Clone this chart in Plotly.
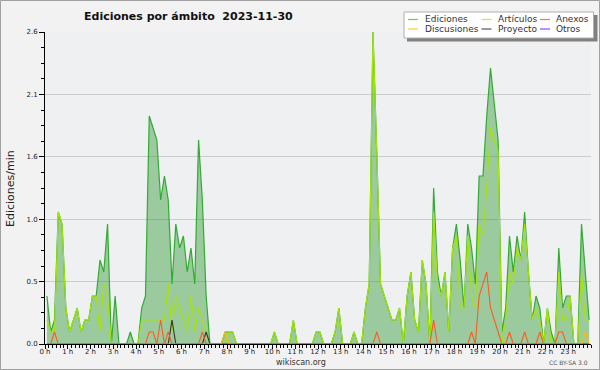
import plotly.graph_objects as go

# ---------------- data (10-minute slots, 144 per day) ----------------
hours = list(range(24))
hour_labels = [f"{h} h" for h in hours]
y_tick_vals = [0, 0.52, 1.04, 1.56, 2.08, 2.6]
y_tick_text = ["0.0", "0.5", "1.0", "1.6", "2.1", "2.6"]
series_names = ["Ediciones", "Artículos", "Anexos", "Discusiones", "Proyecto", "Otros"]

ediciones = [
    0.4, 0.1, 0.2, 1.1, 1.0, 0.3, 0.1, 0.2, 0.3, 0.1, 0.2, 0.2,
    0.4, 0.4, 0.7, 0.6, 1.0, 0.0, 0.4, 0.0, 0.0, 0.0, 0.1, 0.0,
    0.0, 0.3, 0.4, 1.9, 1.8, 1.7, 1.2, 1.4, 1.2, 0.5, 1.0, 0.8,
    0.9, 0.6, 0.8, 0.5, 1.7, 1.2, 0.4, 0.0, 0.0, 0.0, 0.0, 0.1,
    0.1, 0.1, 0.0, 0.0, 0.0, 0.0, 0.0, 0.0, 0.0, 0.0, 0.0, 0.0,
    0.1, 0.0, 0.0, 0.0, 0.0, 0.2, 0.0, 0.0, 0.0, 0.0, 0.0, 0.1,
    0.1, 0.0, 0.0, 0.0, 0.1, 0.3, 0.0, 0.0, 0.0, 0.1, 0.0, 0.0,
    0.3, 0.5, 2.6, 1.6, 0.5, 0.4, 0.3, 0.2, 0.2, 0.3, 0.0, 0.4,
    0.6, 0.2, 0.1, 0.7, 0.5, 0.0, 1.3, 0.6, 0.4, 0.6, 0.1, 0.8,
    1.0, 0.7, 0.3, 1.0, 0.8, 0.5, 1.4, 1.4, 1.9, 2.3, 2.0, 1.7,
    0.1, 0.3, 0.9, 0.6, 0.9, 0.7, 1.1, 0.6, 0.2, 0.4, 0.3, 0.0,
    0.3, 0.1, 0.0, 0.8, 0.3, 0.4, 0.4, 0.0, 0.0, 1.0, 0.6, 0.2,
]
articulos = [
    0.2, 0.1, 0.1, 1.1, 1.0, 0.3, 0.1, 0.2, 0.3, 0.1, 0.2, 0.2,
    0.4, 0.4, 0.1, 0.5, 0.4, 0.0, 0.0, 0.0, 0.0, 0.0, 0.0, 0.0,
    0.0, 0.2, 0.2, 0.2, 0.2, 0.2, 0.2, 0.2, 0.5, 0.1, 0.4, 0.3,
    0.2, 0.1, 0.4, 0.1, 0.3, 0.2, 0.1, 0.0, 0.0, 0.0, 0.0, 0.0,
    0.1, 0.1, 0.0, 0.0, 0.0, 0.0, 0.0, 0.0, 0.0, 0.0, 0.0, 0.0,
    0.1, 0.0, 0.0, 0.0, 0.0, 0.2, 0.0, 0.0, 0.0, 0.0, 0.0, 0.1,
    0.1, 0.0, 0.0, 0.0, 0.1, 0.3, 0.0, 0.0, 0.0, 0.1, 0.0, 0.0,
    0.3, 0.5, 2.6, 1.6, 0.5, 0.4, 0.3, 0.2, 0.2, 0.3, 0.0, 0.4,
    0.6, 0.2, 0.1, 0.7, 0.5, 0.0, 1.1, 0.5, 0.4, 0.6, 0.1, 0.8,
    0.9, 0.3, 0.3, 0.9, 0.4, 0.3, 1.0, 0.9, 1.3, 1.8, 1.7, 1.6,
    0.0, 0.2, 0.6, 0.5, 0.8, 0.7, 1.0, 0.6, 0.2, 0.3, 0.2, 0.0,
    0.3, 0.0, 0.0, 0.6, 0.2, 0.2, 0.4, 0.0, 0.0, 0.6, 0.2, 0.2,
]
anexos = [
    0.0, 0.0, 0.1, 0.0, 0.0, 0.0, 0.0, 0.0, 0.0, 0.0, 0.0, 0.0,
    0.0, 0.0, 0.0, 0.0, 0.0, 0.0, 0.0, 0.0, 0.0, 0.0, 0.0, 0.0,
    0.0, 0.0, 0.0, 0.1, 0.1, 0.0, 0.2, 0.0, 0.1, 0.0, 0.0, 0.0,
    0.0, 0.0, 0.0, 0.0, 0.0, 0.1, 0.0, 0.0, 0.0, 0.0, 0.0, 0.0,
    0.0, 0.0, 0.0, 0.0, 0.0, 0.0, 0.0, 0.0, 0.0, 0.0, 0.0, 0.0,
    0.0, 0.0, 0.0, 0.0, 0.0, 0.0, 0.0, 0.0, 0.0, 0.0, 0.0, 0.0,
    0.0, 0.0, 0.0, 0.0, 0.0, 0.0, 0.0, 0.0, 0.0, 0.0, 0.0, 0.0,
    0.0, 0.0, 0.0, 0.1, 0.0, 0.0, 0.0, 0.0, 0.0, 0.0, 0.0, 0.0,
    0.0, 0.0, 0.0, 0.0, 0.0, 0.0, 0.2, 0.0, 0.0, 0.0, 0.0, 0.0,
    0.0, 0.0, 0.0, 0.0, 0.1, 0.0, 0.4, 0.5, 0.6, 0.3, 0.2, 0.1,
    0.0, 0.0, 0.1, 0.0, 0.0, 0.0, 0.1, 0.0, 0.0, 0.0, 0.1, 0.0,
    0.0, 0.0, 0.0, 0.1, 0.1, 0.0, 0.0, 0.0, 0.0, 0.0, 0.0, 0.0,
]
discusiones = [
    0.0, 0.0, 0.0, 0.0, 0.0, 0.0, 0.0, 0.0, 0.0, 0.0, 0.0, 0.0,
    0.0, 0.0, 0.0, 0.0, 0.0, 0.0, 0.0, 0.0, 0.0, 0.0, 0.0, 0.0,
    0.0, 0.0, 0.0, 0.0, 0.0, 0.0, 0.0, 0.0, 0.0, 0.0, 0.0, 0.0,
    0.0, 0.0, 0.0, 0.0, 0.0, 0.0, 0.0, 0.0, 0.0, 0.0, 0.0, 0.1,
    0.0, 0.0, 0.0, 0.0, 0.0, 0.0, 0.0, 0.0, 0.0, 0.0, 0.0, 0.0,
    0.0, 0.0, 0.0, 0.0, 0.0, 0.0, 0.0, 0.0, 0.0, 0.0, 0.0, 0.0,
    0.0, 0.0, 0.0, 0.0, 0.0, 0.0, 0.0, 0.0, 0.0, 0.0, 0.0, 0.0,
    0.0, 0.0, 0.0, 0.0, 0.0, 0.0, 0.0, 0.0, 0.0, 0.0, 0.0, 0.0,
    0.0, 0.0, 0.0, 0.0, 0.0, 0.0, 0.0, 0.0, 0.0, 0.0, 0.0, 0.0,
    0.0, 0.0, 0.0, 0.0, 0.0, 0.0, 0.0, 0.0, 0.0, 0.0, 0.0, 0.0,
    0.0, 0.0, 0.0, 0.0, 0.0, 0.0, 0.0, 0.0, 0.0, 0.0, 0.0, 0.0,
    0.0, 0.0, 0.0, 0.0, 0.0, 0.0, 0.0, 0.0, 0.0, 0.0, 0.1, 0.0,
]
proyecto = [
    0.0, 0.0, 0.0, 0.0, 0.0, 0.0, 0.0, 0.0, 0.0, 0.0, 0.0, 0.0,
    0.0, 0.0, 0.0, 0.0, 0.0, 0.0, 0.0, 0.0, 0.0, 0.0, 0.0, 0.0,
    0.0, 0.0, 0.0, 0.0, 0.0, 0.0, 0.0, 0.0, 0.0, 0.2, 0.0, 0.0,
    0.0, 0.0, 0.0, 0.0, 0.0, 0.0, 0.1, 0.0, 0.0, 0.0, 0.0, 0.0,
    0.0, 0.0, 0.0, 0.0, 0.0, 0.0, 0.0, 0.0, 0.0, 0.0, 0.0, 0.0,
    0.0, 0.0, 0.0, 0.0, 0.0, 0.0, 0.0, 0.0, 0.0, 0.0, 0.0, 0.0,
    0.0, 0.0, 0.0, 0.0, 0.0, 0.0, 0.0, 0.0, 0.0, 0.0, 0.0, 0.0,
    0.0, 0.0, 0.0, 0.0, 0.0, 0.0, 0.0, 0.0, 0.0, 0.0, 0.0, 0.0,
    0.0, 0.0, 0.0, 0.0, 0.0, 0.0, 0.0, 0.0, 0.0, 0.0, 0.0, 0.0,
    0.0, 0.0, 0.0, 0.0, 0.0, 0.0, 0.0, 0.0, 0.0, 0.0, 0.0, 0.0,
    0.0, 0.0, 0.0, 0.0, 0.0, 0.0, 0.0, 0.0, 0.0, 0.0, 0.0, 0.0,
    0.0, 0.0, 0.0, 0.0, 0.0, 0.0, 0.0, 0.0, 0.0, 0.0, 0.0, 0.0,
]
otros = [
    0.0, 0.0, 0.0, 0.0, 0.0, 0.0, 0.0, 0.0, 0.0, 0.0, 0.0, 0.0,
    0.0, 0.0, 0.0, 0.0, 0.0, 0.0, 0.0, 0.0, 0.0, 0.0, 0.0, 0.0,
    0.0, 0.0, 0.0, 0.0, 0.0, 0.0, 0.0, 0.0, 0.0, 0.0, 0.0, 0.0,
    0.0, 0.0, 0.0, 0.0, 0.0, 0.0, 0.0, 0.0, 0.0, 0.0, 0.0, 0.0,
    0.0, 0.0, 0.0, 0.0, 0.0, 0.0, 0.0, 0.0, 0.0, 0.0, 0.0, 0.0,
    0.0, 0.0, 0.0, 0.0, 0.0, 0.0, 0.0, 0.0, 0.0, 0.0, 0.0, 0.0,
    0.0, 0.0, 0.0, 0.0, 0.0, 0.0, 0.0, 0.0, 0.0, 0.0, 0.0, 0.0,
    0.0, 0.0, 0.0, 0.0, 0.0, 0.0, 0.0, 0.0, 0.0, 0.0, 0.0, 0.0,
    0.0, 0.0, 0.0, 0.0, 0.0, 0.0, 0.0, 0.0, 0.0, 0.0, 0.0, 0.0,
    0.0, 0.0, 0.0, 0.0, 0.0, 0.0, 0.0, 0.0, 0.0, 0.0, 0.0, 0.0,
    0.0, 0.0, 0.0, 0.0, 0.0, 0.0, 0.0, 0.0, 0.0, 0.0, 0.0, 0.0,
    0.0, 0.0, 0.0, 0.0, 0.0, 0.0, 0.0, 0.0, 0.0, 0.0, 0.0, 0.0,
]

# slot centres in minutes since midnight
slot_minutes = [10 * k + 5 for k in range(len(ediciones))]

# ---------------- styles ----------------
line_colors = {
    "Ediciones": "#33aa33",
    "Artículos": "#a6e600",
    "Anexos": "#ff5a1f",
    "Discusiones": "#ffbb00",
    "Proyecto": "#333333",
    "Otros": "#9933ff",
}
legend_colors = {
    "Ediciones": "#66cc66",
    "Artículos": "#ccee22",
    "Anexos": "#ff7744",
    "Discusiones": "#ffcc33",
    "Proyecto": "#555555",
    "Otros": "#9944ff",
}
FONT = "DejaVu Sans"

W, H = 600, 370
L, R, T, B = 45, 9, 32, 26
PW, PH = W - L - R, H - T - B


def fx(px):
    return (px - L) / PW


def fy(py):
    return (H - B - py) / PH


fig = go.Figure()
fig.add_trace(go.Scatter(
    x=slot_minutes, y=ediciones, name="Ediciones", mode="lines",
    line=dict(color=line_colors["Ediciones"], width=1.2),
    fill="tozeroy", fillcolor="rgba(51,153,51,0.44)", showlegend=False))
for name, vals in [("Artículos", articulos), ("Otros", otros), ("Proyecto", proyecto),
                   ("Discusiones", discusiones), ("Anexos", anexos)]:
    fig.add_trace(go.Scatter(
        x=slot_minutes, y=vals, name=name, mode="lines",
        line=dict(color=line_colors[name], width=1.1), showlegend=False))

y_minor = [round(0.13 * k, 2) for k in range(21)]

fig.update_layout(
    width=W, height=H,
    margin=dict(l=L, r=R, t=T, b=B, pad=0),
    paper_bgcolor="#f2f2f2",
    plot_bgcolor="#eef0f2",
    font=dict(family=FONT, color="#222222"),
    xaxis=dict(
        range=[0, 1440], tickmode="array",
        tickvals=[h * 60 for h in hours], ticktext=hour_labels,
        ticks="outside", ticklen=4, tickwidth=1, tickcolor="black",
        ticklabelstandoff=-3,
        showline=True, linecolor="black", linewidth=1,
        showgrid=False, zeroline=False,
        tickfont=dict(size=7, family=FONT, color="#222222"),
        minor=dict(dtick=10, tick0=0, ticks="outside", ticklen=3,
                   tickcolor="black", showgrid=False),
    ),
    yaxis=dict(
        range=[0, 2.6], tickmode="array",
        tickvals=y_tick_vals, ticktext=y_tick_text,
        ticks="outside", ticklen=5, tickwidth=1, tickcolor="black",
        showline=True, linecolor="black", linewidth=1,
        showgrid=True, gridcolor="#cccccc", gridwidth=1, zeroline=False,
        tickfont=dict(size=7, family=FONT, color="#222222"),
        minor=dict(tickmode="array", tickvals=y_minor, ticks="outside",
                   ticklen=3, tickcolor="black", showgrid=False),
    ),
)

annotations = [
    dict(text="<b>Ediciones por ámbito\u00a0 2023-11-30</b>", x=fx(188), y=fy(17),
         font=dict(size=11, family=FONT, color="#111111")),
    dict(text="Ediciones/min", x=fx(10), y=fy(189), textangle=-90,
         font=dict(size=11, family=FONT, color="#222222")),
    dict(text="wikiscan.org", x=fx(300.5), y=fy(362),
         font=dict(size=8, family=FONT, color="#333333")),
    dict(text="CC BY-SA 3.0", x=fx(590), y=fy(362.5), xanchor="right",
         font=dict(size=6, family=FONT, color="#555555")),
]
for a in annotations:
    a.update(xref="paper", yref="paper", showarrow=False)
    a.setdefault("xanchor", "center")
    a.setdefault("yanchor", "middle")

shapes = [
    # outer frame
    dict(type="rect", xref="paper", yref="paper", x0=fx(0.5), x1=fx(599.5),
         y0=fy(0.5), y1=fy(369.5), line=dict(color="#a0a0a0", width=1),
         fillcolor="rgba(0,0,0,0)"),
    # legend shadow + box
    dict(type="rect", xref="paper", yref="paper", x0=fx(407), x1=fx(597.5),
         y0=fy(15), y1=fy(41.5), line=dict(width=0), fillcolor="#808080"),
    dict(type="rect", xref="paper", yref="paper", x0=fx(404), x1=fx(593.5),
         y0=fy(12), y1=fy(38), line=dict(color="#b0b0b0", width=1),
         fillcolor="#ffffff"),
]

legend_cols = [(408, 424), (481.5, 497), (540, 555)]
legend_rows = [19.5, 29]
for k, name in enumerate(series_names):
    r, c = divmod(k, 3)
    sx, tx = legend_cols[c]
    yy = legend_rows[r]
    shapes.append(dict(type="line", xref="paper", yref="paper",
                       x0=fx(sx), x1=fx(sx + 10), y0=fy(yy), y1=fy(yy),
                       line=dict(color=legend_colors[name], width=1.2)))
    annotations.append(dict(text=name, xref="paper", yref="paper", showarrow=False,
                            x=fx(tx - 1), y=fy(yy), xanchor="left", yanchor="middle",
                            font=dict(size=9, family=FONT, color="#333333")))

fig.update_layout(annotations=annotations, shapes=shapes)
fig.write_html(
    "out.html",
    config={"displayModeBar": False},
    post_script="document.body.style.margin='0';document.body.style.overflow='hidden';",
)
